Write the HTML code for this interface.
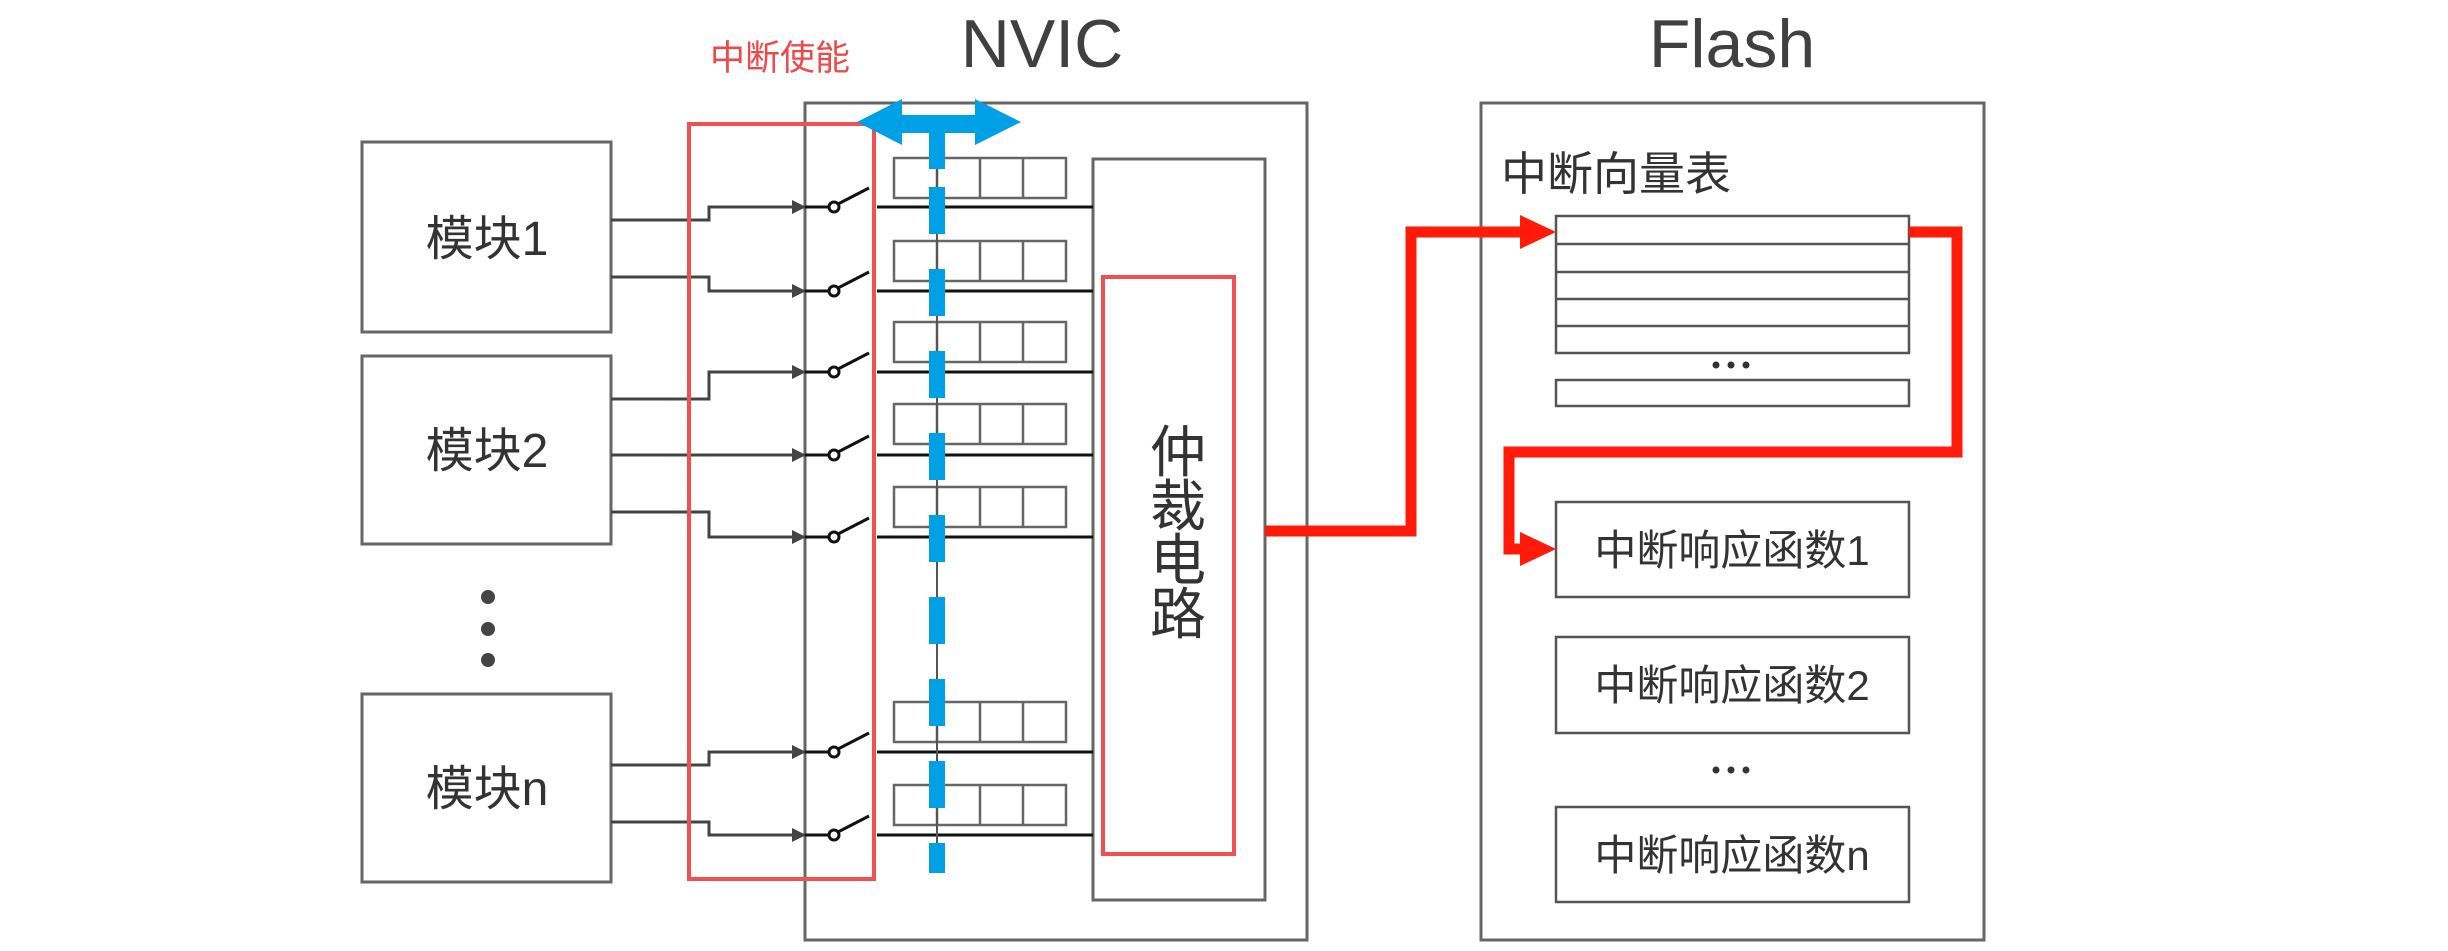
<!DOCTYPE html>
<html><head><meta charset="utf-8"><style>
html,body{margin:0;padding:0;background:#fff;}
svg{display:block}
text{font-family:"Liberation Sans","Noto Sans CJK SC",sans-serif;}
</style></head><body>
<svg width="2448" height="951" viewBox="0 0 2448 951" xmlns="http://www.w3.org/2000/svg">
<defs>
<marker id="ah" markerWidth="14" markerHeight="14" refX="13" refY="7" orient="auto" markerUnits="userSpaceOnUse">
<path d="M0,0 L14,7 L0,14 Z" fill="#444"/></marker>
</defs>
<rect width="2448" height="951" fill="#fff"/>
<!-- titles -->
<text x="1042" y="67" font-size="68" fill="#404040" text-anchor="middle">NVIC</text>
<text x="1732" y="67" font-size="68" fill="#404040" text-anchor="middle">Flash</text>
<text x="780" y="70" font-size="35" fill="#f04848" text-anchor="middle">中断使能</text>
<!-- modules -->
<g fill="none" stroke="#666" stroke-width="3">
<rect x="362" y="142" width="249" height="190"/>
<rect x="362" y="356" width="249" height="188"/>
<rect x="362" y="694" width="249" height="188"/>
</g>
<g font-size="48" fill="#333" text-anchor="middle">
<text x="487" y="255">模块1</text>
<text x="487" y="467">模块2</text>
<text x="487" y="805">模块n</text>
</g>
<circle cx="488" cy="597" r="7" fill="#444"/>
<circle cx="488" cy="629" r="7" fill="#444"/>
<circle cx="488" cy="660" r="7" fill="#444"/>
<!-- NVIC box -->
<rect x="805" y="103" width="502" height="837" fill="none" stroke="#666" stroke-width="3"/>
<rect x="1093" y="159" width="172" height="741" fill="none" stroke="#666" stroke-width="3"/>
<!-- signal lines -->
<g fill="none" stroke="#444" stroke-width="3" marker-end="url(#ah)">
<path d="M611,220 H709 V207 H805"/>
<path d="M611,277 H709 V291 H805"/>
<path d="M611,399 H709 V372 H805"/>
<path d="M611,455 H805"/>
<path d="M611,512 H709 V537 H805"/>
<path d="M611,765 H709 V752 H805"/>
<path d="M611,822 H709 V835 H805"/>
</g>
<!-- switches, lines, registers -->
<g id="sw">
</g>
<g stroke-width="3" fill="none">
<!-- rows -->
<g stroke="#111"><path d="M805,207 H830 M877,207 H1093"/><path d="M805,291 H830 M877,291 H1093"/><path d="M805,372 H830 M877,372 H1093"/><path d="M805,455 H830 M877,455 H1093"/><path d="M805,537 H830 M877,537 H1093"/><path d="M805,752 H830 M877,752 H1093"/><path d="M805,835 H830 M877,835 H1093"/></g>
<g stroke="#111">
<circle cx="834" cy="207" r="5"/><path d="M838,204 L869,188"/>
<circle cx="834" cy="291" r="5"/><path d="M838,288 L869,272"/>
<circle cx="834" cy="372" r="5"/><path d="M838,369 L869,353"/>
<circle cx="834" cy="455" r="5"/><path d="M838,452 L869,436"/>
<circle cx="834" cy="537" r="5"/><path d="M838,534 L869,518"/>
<circle cx="834" cy="752" r="5"/><path d="M838,749 L869,733"/>
<circle cx="834" cy="835" r="5"/><path d="M838,832 L869,816"/>
</g>
<g stroke="#666" stroke-width="2.5">
<rect x="894" y="158" width="172" height="40"/><path d="M937,158V198M980,158V198M1023,158V198"/>
<rect x="894" y="241" width="172" height="40"/><path d="M937,241V281M980,241V281M1023,241V281"/>
<rect x="894" y="322" width="172" height="40"/><path d="M937,322V362M980,322V362M1023,322V362"/>
<rect x="894" y="404" width="172" height="40"/><path d="M937,404V444M980,404V444M1023,404V444"/>
<rect x="894" y="487" width="172" height="40"/><path d="M937,487V527M980,487V527M1023,487V527"/>
<rect x="894" y="702" width="172" height="40"/><path d="M937,702V742M980,702V742M1023,702V742"/>
<rect x="894" y="785" width="172" height="40"/><path d="M937,785V825M980,785V825M1023,785V825"/>
</g>
</g>
<!-- red boxes -->
<rect x="689" y="124" width="185" height="755" fill="none" stroke="#f05050" stroke-width="4"/>
<rect x="1103" y="277" width="131" height="577" fill="none" stroke="#f05050" stroke-width="4"/>
<g font-size="56" fill="#333" text-anchor="middle">
<text x="1178" y="472">仲</text><text x="1178" y="526">裁</text><text x="1178" y="580">电</text><text x="1178" y="634">路</text>
</g>
<!-- blue bus -->
<line x1="937" y1="160" x2="937" y2="873" stroke="#555" stroke-width="2"/>
<line x1="937" y1="169" x2="937" y2="873" stroke="#00a0e6" stroke-width="16" stroke-dasharray="0 18 47 17" stroke-dashoffset="0"/>
<path d="M857,122 L902,99 V115 H975 V99 L1021,122 L975,145 V133 H945 V169 H929 V133 H902 V145 Z" fill="#00a0e6"/>
<!-- Flash -->
<rect x="1481" y="103" width="503" height="837" fill="none" stroke="#666" stroke-width="3"/>
<text x="1501" y="190" font-size="46" fill="#333">中断向量表</text>
<g fill="none" stroke="#555" stroke-width="2.5">
<rect x="1556" y="216" width="353" height="137"/>
<path d="M1556,244H1909M1556,272H1909M1556,299H1909M1556,326H1909"/>
<rect x="1556" y="380" width="353" height="26"/>
<rect x="1556" y="502" width="353" height="95"/>
<rect x="1556" y="637" width="353" height="96"/>
<rect x="1556" y="807" width="353" height="95"/>
</g>
<g fill="#333"><circle cx="1716" cy="365" r="3.5"/><circle cx="1731" cy="365" r="3.5"/><circle cx="1746" cy="365" r="3.5"/>
<circle cx="1716" cy="770" r="3.5"/><circle cx="1731" cy="770" r="3.5"/><circle cx="1746" cy="770" r="3.5"/></g>
<g font-size="42" fill="#333" text-anchor="middle">
<text x="1732" y="565">中断响应函数1</text>
<text x="1732" y="700">中断响应函数2</text>
<text x="1732" y="870">中断响应函数n</text>
</g>
<!-- red path -->
<g fill="none" stroke="#ff1a0a" stroke-width="11">
<path d="M1265,531 H1411 V232 H1522"/>
<path d="M1909,232 H1957 V452 H1509 V549 H1522"/>
</g>
<path d="M1520,215 L1556,232 L1520,249 Z" fill="#ff1a0a"/>
<path d="M1520,532 L1556,549 L1520,566 Z" fill="#ff1a0a"/>
</svg>
</body></html>
